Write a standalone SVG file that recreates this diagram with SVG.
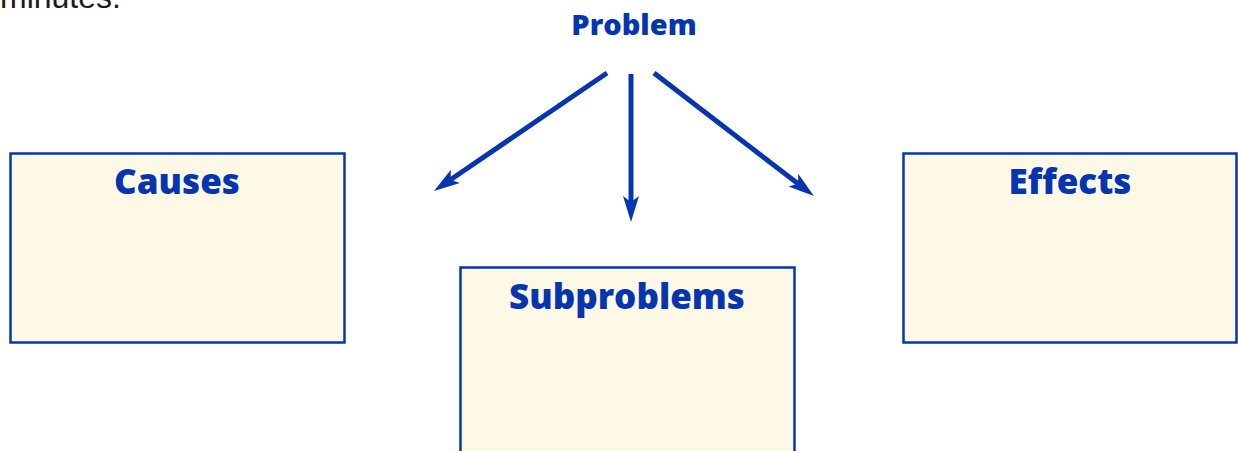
<svg xmlns="http://www.w3.org/2000/svg" width="1238" height="451" viewBox="0 0 1238 451">
<defs>
<style>
.box{fill:#fef8e6;stroke:#0536b0;stroke-width:2.5}
.lbl{font-family:"Open Sans","Liberation Sans",sans-serif;font-weight:800;fill:#0536b0;text-anchor:middle}
.conn{stroke:#0536b0;stroke-width:5;fill:none}
</style>
<marker id="ah" viewBox="0 0 26 16" refX="6" refY="8" markerWidth="26" markerHeight="16" markerUnits="userSpaceOnUse" orient="auto">
<path d="M0,0 L26,8 L0,16 L6,8 Z" fill="#0536b0"/>
</marker>
</defs>
<rect width="1238" height="451" fill="#ffffff"/>
<text x="0" y="8" font-family="Liberation Sans, Arial, sans-serif" font-size="32" fill="#1a1a1a">minutes.</text>
<g id="problem">
<text class="lbl" x="634" y="35" font-size="29">Problem</text>
</g>
<g id="connectors">
<line class="conn" x1="607" y1="73" x2="450.5" y2="179.7" marker-end="url(#ah)"/>
<line class="conn" x1="631" y1="74" x2="631" y2="202" marker-end="url(#ah)"/>
<line class="conn" x1="654" y1="73" x2="798.1" y2="183.8" marker-end="url(#ah)"/>
</g>
<g id="causes">
<rect class="box" x="10.5" y="153.5" width="334" height="189"/>
<text class="lbl" x="177" y="194" font-size="35">Causes</text>
</g>
<g id="subproblems">
<rect class="box" x="460.5" y="267.5" width="334" height="200"/>
<text class="lbl" x="627" y="309" font-size="35">Subproblems</text>
</g>
<g id="effects">
<rect class="box" x="903.5" y="153.5" width="333" height="189"/>
<text class="lbl" x="1070" y="194" font-size="35">Effects</text>
</g>
</svg>
